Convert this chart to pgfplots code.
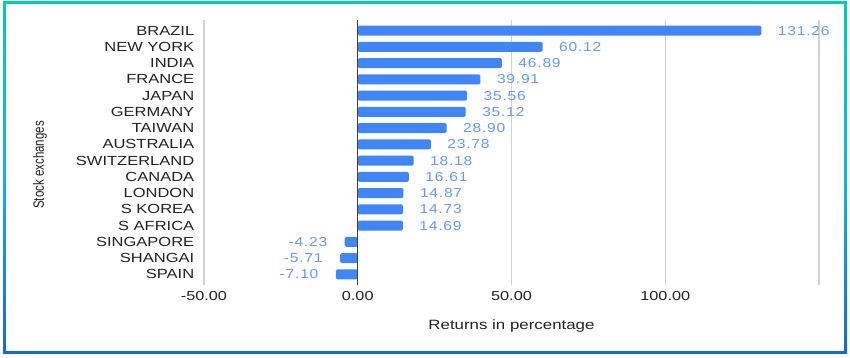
\documentclass[border=0pt]{standalone}
\usepackage{graphicx}
\usepackage{pgfplots}
\pgfplotsset{compat=1.18}
\usepackage{fontspec}
\setmainfont{Liberation Sans}[FakeStretch=1.25]
\newfontfamily\plainfont{Liberation Sans}
\newfontfamily\valfont{Liberation Sans}[FakeStretch=1.2, LetterSpace=6]
\definecolor{barblue}{RGB}{66,133,244}
\definecolor{valblue}{RGB}{105,155,240}
\definecolor{tealc}{RGB}{0,205,175}
\definecolor{cyanc}{RGB}{20,180,225}
\definecolor{bluec}{RGB}{25,105,200}
\definecolor{gridc}{RGB}{210,210,210}
\definecolor{txt}{RGB}{34,34,34}
\pgfplotsset{/pgf/number format/assume math mode=true}
\begin{document}
\begin{tikzpicture}[x=1pt,y=1pt]
\useasboundingbox (0,0) rectangle (850,357);
\fill[white] (0,0) rectangle (850,357);
% frame
\fill[tealc] (3,353) rectangle (847,355.5);
\shade[top color=tealc, bottom color=bluec, middle color=cyanc] (3,4) rectangle (5.5,355.5);
\shade[top color=tealc, bottom color=bluec, middle color=cyanc] (844.5,4) rectangle (847,355.5);
\fill[bluec] (3,3) rectangle (847,6.5);
\begin{axis}[
  at={(204pt,72pt)}, anchor=south west,
  scale only axis, width=615pt, height=265pt,
  xbar, bar width=10pt, bar shift=0pt,
  xmin=-50, xmax=150, ymin=-0.65, ymax=15.65, y dir=reverse,
  axis line style={draw=none}, tick style={draw=none},
  xmajorgrids, grid style={gridc, line width=1.3pt},
  xtick={-50,0,50,100,150},
  xticklabels={-50.00,0.00,50.00,100.00,},
  xticklabel style={font=\fontsize{13}{15}\selectfont, text=txt, yshift=-3pt},
  ytick={0,...,15},
  yticklabels={BRAZIL,NEW YORK,INDIA,FRANCE,JAPAN,GERMANY,TAIWAN,AUSTRALIA,SWITZERLAND,CANADA,LONDON,S KOREA,S AFRICA,SINGAPORE,SHANGAI,SPAIN},
  yticklabel style={font=\fontsize{13.2}{15}\selectfont, text=txt, xshift=-2pt},
  xlabel={Returns in percentage},
  xlabel style={at={(axis description cs:0.5,-0.155)}, anchor=center, font=\fontsize{13.5}{16}\selectfont, text=txt},
  ylabel={\scalebox{1}[1.3]{Stock exchanges}},
  ylabel style={at={(axis description cs:-0.2667,0.4528)}, anchor=center, font=\plainfont\fontsize{11.5}{14}\selectfont, text=txt},
  nodes near coords={\pgfmathprintnumber[fixed,fixed zerofill,precision=2]{\pgfplotspointmeta}},
  clip=false,
]
\addplot[fill=barblue, draw=none, rounded corners=1.5pt, nodes near coords style={font=\valfont\fontsize{13}{15}\selectfont, text=valblue, anchor=west, xshift=13pt, rounded corners=0pt}] coordinates {
 (131.26,0) (60.12,1) (46.89,2) (39.91,3) (35.56,4) (35.12,5) (28.90,6) (23.78,7)
 (18.18,8) (16.61,9) (14.87,10) (14.73,11) (14.69,12)};
\addplot[fill=barblue, draw=none, rounded corners=1.5pt, nodes near coords style={font=\valfont\fontsize{13}{15}\selectfont, text=valblue, anchor=east, xshift=-14pt, rounded corners=0pt}] coordinates {
 (-4.23,13) (-5.71,14) (-7.10,15)};
\draw[black!75, line width=1pt] (axis cs:0,-0.65) -- (axis cs:0,15.65);
\end{axis}
\end{tikzpicture}
\end{document}
